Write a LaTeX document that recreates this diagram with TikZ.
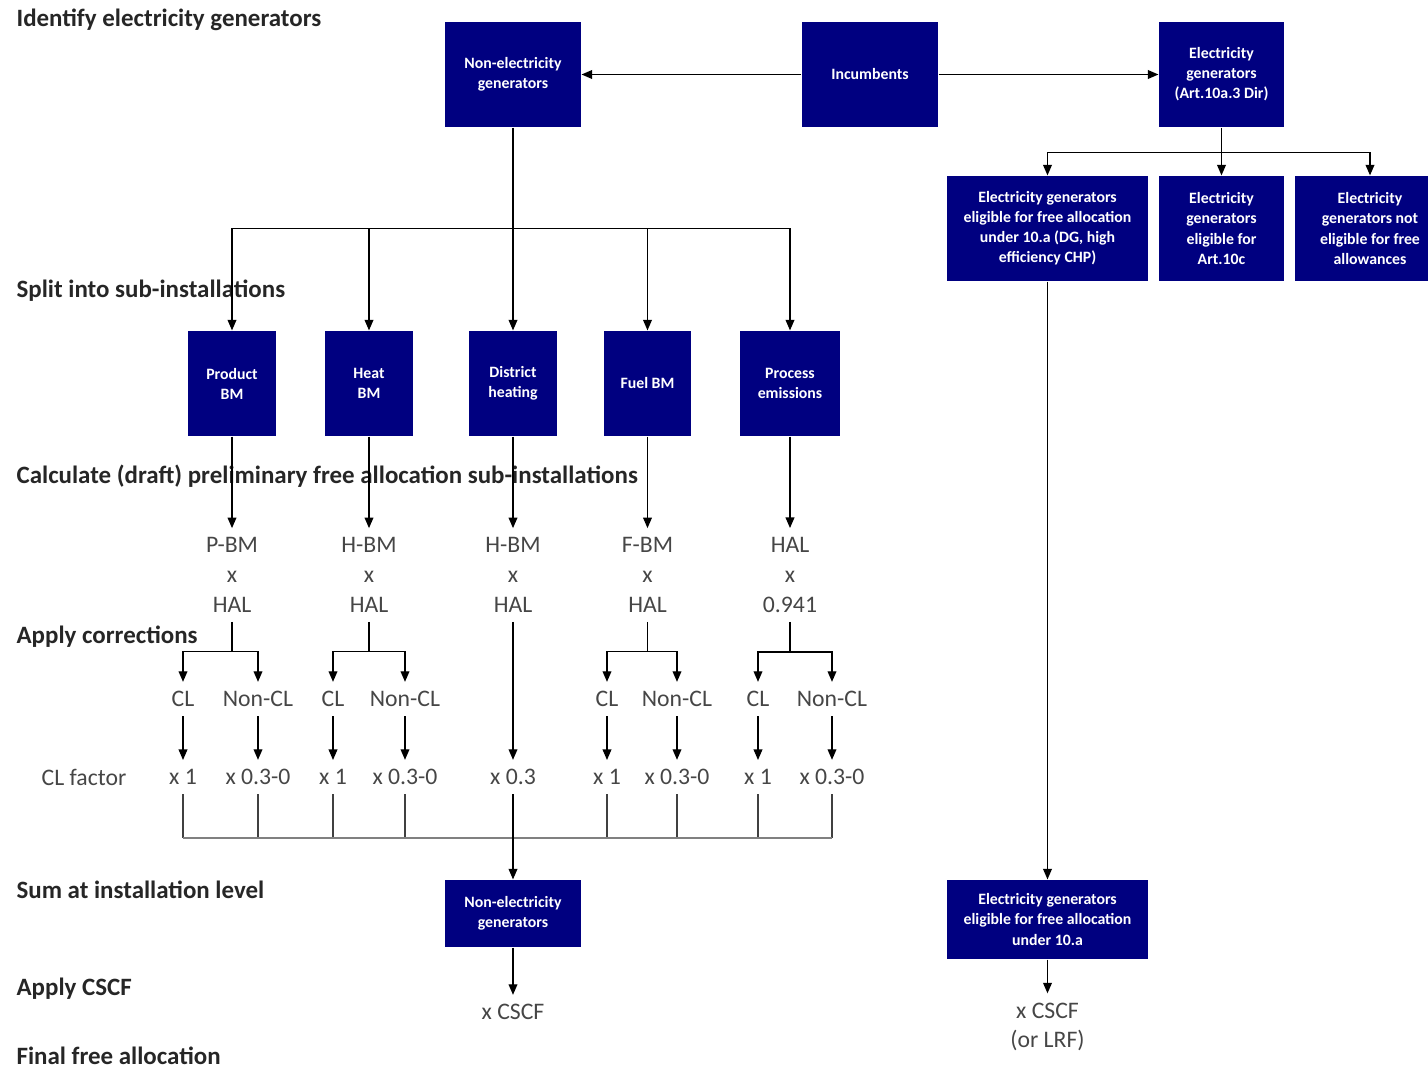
\documentclass[tikz,border=0pt]{standalone}
\usepackage{fontspec}
\setmainfont{Carlito}
\usetikzlibrary{arrows.meta}
\definecolor{boxblue}{RGB}{0,0,128}
\definecolor{calcgray}{RGB}{70,70,70}
\tikzset{
  genbox/.style={fill=boxblue, text=white, font=\bfseries\fontsize{9}{11.4}\selectfont, align=center, inner sep=2pt},
  steptext/.style={anchor=west, inner sep=0pt, font=\bfseries\fontsize{14.2}{16}\selectfont, text=black!85},
  calc/.style={text=calcgray, font=\fontsize{13.5}{17}\selectfont, align=center, inner sep=5pt},
  arr/.style={-{Triangle[length=6pt,width=5pt]}}
}

\begin{document}
\begin{tikzpicture}[x=0.02cm, y=-0.02cm, line width=0.7pt]
  \useasboundingbox (0,0) rectangle (1428,1072);
  % step labels
  \node[steptext] (s1) at (16,20) {Identify electricity generators};
  \node[steptext] (s2) at (16,291) {Split into sub-installations};
  \node[steptext] (s3) at (16,476) {Calculate (draft) preliminary free allocation sub-installations};
  \node[steptext] (s4) at (16,637) {Apply corrections};
  \node[steptext] (s5) at (16,890) {Sum at installation level};
  \node[steptext] (s6) at (16,989) {Apply CSCF};
  \node[steptext] (s7) at (16,1056) {Final free allocation};
  \node[calc] (clfac) at (84,777) {CL factor};

  \node[genbox, minimum width=2.72cm, minimum height=2.1cm] (nonelec) at (513,74.5) {Non-electricity\\generators};
  \node[genbox, minimum width=2.72cm, minimum height=2.1cm] (incumb) at (870,74.5) {Incumbents};
  \node[genbox, minimum width=2.5cm, minimum height=2.1cm] (elecgen) at (1221.5,74.5) {Electricity\\generators\\(Art.10a.3 Dir)};
  \node[genbox, minimum width=4.02cm, minimum height=2.1cm] (eleg) at (1047.5,228.5) {Electricity generators\\eligible for free allocation\\under 10.a (DG, high\\efficiency CHP)};
  \node[genbox, minimum width=2.5cm, minimum height=2.1cm] (art10c) at (1221.5,228.5) {Electricity\\generators\\eligible for\\Art.10c};
  \node[genbox, minimum width=3cm, minimum height=2.1cm] (noteleg) at (1370,228.5) {Electricity\\generators not\\eligible for free\\allowances};
  \draw[arr] (incumb) -- (nonelec);
  \draw[arr] (incumb) -- (elecgen);
  \draw (elecgen.south) -- ++(0,25) coordinate (esplit);
  \draw[arr] (esplit) -| (eleg.north);
  \draw[arr] (esplit) -- (art10c.north);
  \draw[arr] (esplit) -| (noteleg.north);

  % sub-installations
  \node[genbox, minimum width=1.76cm, minimum height=2.1cm] (pbm) at (232,383.5) {Product\\BM};
  \node[genbox, minimum width=1.76cm, minimum height=2.1cm] (hbm) at (369,383.5) {Heat\\BM};
  \node[genbox, minimum width=1.76cm, minimum height=2.1cm] (dheat) at (513,383.5) {District\\heating};
  \node[genbox, minimum width=1.76cm, minimum height=2.1cm] (fbm) at (647.5,383.5) {Fuel BM};
  \node[genbox, minimum width=2cm, minimum height=2.1cm] (proc) at (790,383.5) {Process\\emissions};
  \draw (nonelec.south) -- ++(0,101) coordinate (ssplit);
  \draw[arr] (ssplit) -| (pbm.north);
  \draw[arr] (ssplit) -| (hbm.north);
  \draw[arr] (ssplit) -- (dheat.north);
  \draw[arr] (ssplit) -| (fbm.north);
  \draw[arr] (ssplit) -| (proc.north);

  \node[calc] (pcalc) at (232,575) {P-BM\\x\\HAL};
  \node[calc] (hcalc) at (369,575) {H-BM\\x\\HAL};
  \node[calc] (dcalc) at (513,575) {H-BM\\x\\HAL};
  \node[calc] (fcalc) at (647.5,575) {F-BM\\x\\HAL};
  \node[calc] (ecalc) at (790,575) {HAL\\x\\0.941};
  \draw[arr] (pbm) -- (pcalc);
  \draw[arr] (hbm) -- (hcalc);
  \draw[arr] (dheat) -- (dcalc);
  \draw[arr] (fbm) -- (fcalc);
  \draw[arr] (proc) -- (ecalc);

  % corrections
  \node[calc] (pcl) at (183,699) {CL};
  \node[calc] (pncl) at (258,699) {Non-CL};
  \node[calc] (hcl) at (333,699) {CL};
  \node[calc] (hncl) at (405,699) {Non-CL};
  \node[calc] (fcl) at (607,699) {CL};
  \node[calc] (fncl) at (677,699) {Non-CL};
  \node[calc] (ecl) at (758,699) {CL};
  \node[calc] (encl) at (832,699) {Non-CL};
  \draw[arr] (pcalc.south) -- ++(0,30) -| (pcl.north);
  \draw[arr] (pcalc.south) ++(0,30) -| (pncl.north);
  \draw[arr] (hcalc.south) -- ++(0,30) -| (hcl.north);
  \draw[arr] (hcalc.south) ++(0,30) -| (hncl.north);
  \draw[arr] (fcalc.south) -- ++(0,30) -| (fcl.north);
  \draw[arr] (fcalc.south) ++(0,30) -| (fncl.north);
  \draw[arr] (ecalc.south) -- ++(0,30) -| (ecl.north);
  \draw[arr] (ecalc.south) ++(0,30) -| (encl.north);

  \node[calc] (pf1) at (183,777) {x 1};
  \node[calc] (pf2) at (258,777) {x 0.3-0};
  \node[calc] (hf1) at (333,777) {x 1};
  \node[calc] (hf2) at (405,777) {x 0.3-0};
  \node[calc] (dfac) at (513,777) {x 0.3};
  \node[calc] (ff1) at (607,777) {x 1};
  \node[calc] (ff2) at (677,777) {x 0.3-0};
  \node[calc] (ef1) at (758,777) {x 1};
  \node[calc] (ef2) at (832,777) {x 0.3-0};
  \draw[arr] (pcl) -- (pf1);
  \draw[arr] (pncl) -- (pf2);
  \draw[arr] (hcl) -- (hf1);
  \draw[arr] (hncl) -- (hf2);
  \draw[arr] (dcalc) -- (dfac);
  \draw[arr] (fcl) -- (ff1);
  \draw[arr] (fncl) -- (ff2);
  \draw[arr] (ecl) -- (ef1);
  \draw[arr] (encl) -- (ef2);

  % sum at installation level
  \coordinate (sum) at (513,838);
  \foreach \f in {pf1,pf2,hf1,hf2,ff1,ff2,ef1,ef2}
    \draw[black!75] (\f.south) -- (\f.south |- sum);
  \draw[gray, line width=1.2pt] (pf1.south |- sum) -- (ef2.south |- sum);

  \node[genbox, minimum width=2.72cm, minimum height=1.34cm] (nonelec2) at (513,913.5) {Non-electricity\\generators};
  \node[genbox, minimum width=4.02cm, minimum height=1.58cm] (eleg2) at (1047.5,919.5) {Electricity generators\\eligible for free allocation\\under 10.a};
  \draw[arr] (dfac) -- (nonelec2);
  \draw[arr] (eleg) -- (eleg2);

  \node[calc] (cscf) at (513,1012) {x CSCF};
  \node[calc] (cscf2) at (1047.5,1027) {x CSCF\\(or LRF)};
  \draw[arr] (nonelec2) -- (cscf);
  \draw[arr] (eleg2) -- (cscf2);
\end{tikzpicture}
\end{document}
